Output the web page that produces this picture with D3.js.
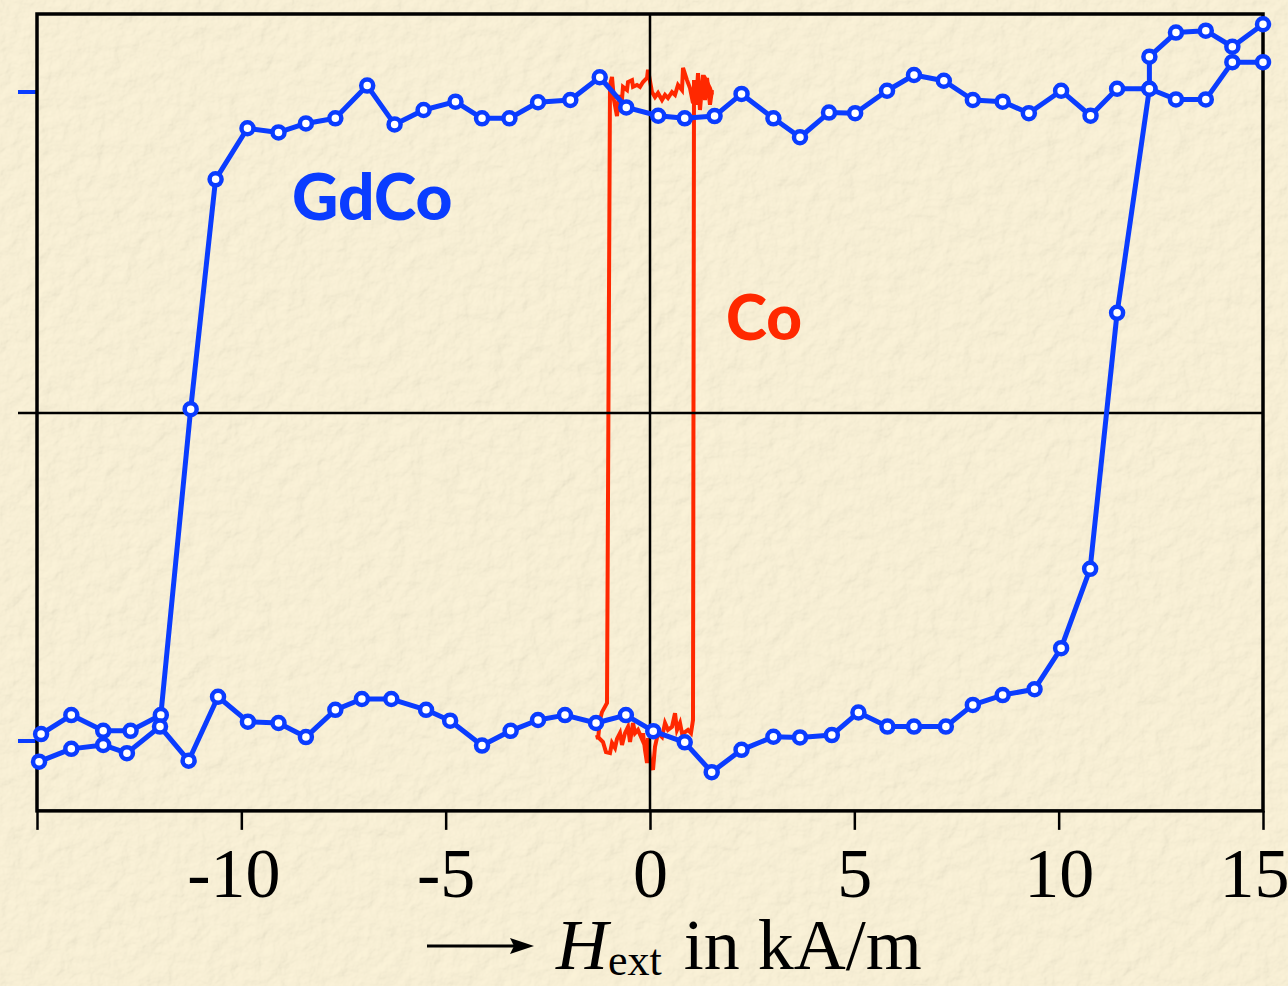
<!DOCTYPE html>
<html>
<head>
<meta charset="utf-8">
<script src="https://cdn.jsdelivr.net/npm/d3@7"></script>
<style>
  html, body { margin: 0; padding: 0; background: #f3ebd3; }
  svg { display: block; }
</style>
</head>
<body>
<svg id="chart" width="1288" height="986"></svg>
<script>
// ---------- DATA ----------
// GdCo: descending branch (upper), H from +15 to -15
const gdDownH = [15.0, 14.25, 13.60, 12.87, 12.22, 12.22, 11.43, 10.78, 10.06, 9.27, 8.63, 7.90, 7.19, 6.46, 5.80, 5.02, 4.38, 3.67, 3.02, 2.24, 1.58, 0.85, 0.20, -0.58, -1.23, -1.95, -2.74, -3.44, -4.11, -4.76, -5.54, -6.25, -6.92, -7.70, -8.42, -9.09, -9.85, -10.63, -11.24, -11.97, -12.71, -13.38, -14.16, -14.90];
const gdDownM = [1.211, 1.141, 1.191, 1.185, 1.110, 1.010, 1.010, 0.926, 1.004, 0.934, 0.970, 0.975, 1.035, 1.053, 1.004, 0.934, 0.936, 0.859, 0.918, 0.994, 0.925, 0.918, 0.926, 0.952, 1.046, 0.975, 0.968, 0.918, 0.918, 0.970, 0.944, 0.899, 1.020, 0.918, 0.902, 0.874, 0.887, 0.728, 0.012, -0.921, -0.969, -0.969, -0.921, -0.979];
// GdCo: ascending branch (lower), H from -15 to +15
const gdUpH = [-14.95, -14.16, -13.38, -12.80, -11.99, -11.29, -10.57, -9.84, -9.09, -8.42, -7.70, -7.05, -6.33, -5.48, -4.89, -4.11, -3.41, -2.74, -2.08, -1.32, -0.59, 0.08, 0.85, 1.51, 2.24, 3.02, 3.67, 4.45, 5.10, 5.81, 6.46, 7.24, 7.90, 8.63, 9.41, 10.06, 10.77, 11.43, 12.22, 12.87, 13.60, 14.25, 15.0];
const gdUpM = [-1.063, -1.024, -1.012, -1.037, -0.956, -1.060, -0.865, -0.941, -0.945, -0.988, -0.905, -0.872, -0.872, -0.905, -0.938, -1.014, -0.969, -0.936, -0.921, -0.945, -0.921, -0.970, -1.004, -1.095, -1.027, -0.987, -0.989, -0.982, -0.913, -0.956, -0.956, -0.956, -0.890, -0.860, -0.842, -0.717, -0.475, 0.312, 1.010, 0.977, 0.977, 1.093, 1.093];

// Co: descending branch
const coDownH = [1.517, 1.468, 1.370, 1.297, 1.223, 1.150, 1.101, 1.028, 0.979, 0.905, 0.808, 0.783, 0.685, 0.612, 0.538, 0.440, 0.367, 0.294, 0.196, 0.122, 0.049, -0.049, -0.073, -0.171, -0.245, -0.318, -0.416, -0.440, -0.538, -0.563, -0.661, -0.710, -0.759, -0.808, -0.881, -0.930, -0.979, -1.052, -1.175, -1.223, -1.272, -1.297];
const coDownM = [0.991, 1.012, 1.037, 1.000, 1.022, 0.991, 1.000, 0.981, 1.012, 1.037, 1.075, 1.006, 1.022, 0.991, 1.000, 0.981, 0.991, 0.975, 0.997, 0.984, 1.000, 1.069, 1.044, 1.031, 1.016, 1.022, 1.016, 1.037, 1.031, 1.006, 1.016, 0.938, 0.991, 0.925, 0.975, 1.047, 1.022, -0.884, -0.912, -0.936, -0.994, -0.982];
// Co: ascending branch
const coUpH = [-1.297, -1.272, -1.150, -1.077, -0.979, -0.930, -0.856, -0.808, -0.734, -0.685, -0.612, -0.538, -0.489, -0.416, -0.367, -0.294, -0.196, -0.171, -0.122, -0.073, -0.049, 0.000, 0.073, 0.122, 0.196, 0.294, 0.367, 0.440, 0.538, 0.612, 0.661, 0.734, 0.783, 0.856, 0.930, 1.003, 1.052, 1.077, 1.126, 1.175, 1.223, 1.297, 1.346, 1.395, 1.468, 1.517];
const coUpM = [-0.991, -0.988, -1.003, -1.034, -1.037, -1.006, -1.021, -0.994, -0.976, -1.012, -0.976, -0.957, -1.003, -0.945, -0.976, -0.966, -0.994, -0.976, -1.027, -1.067, -0.991, -1.058, -1.088, -1.018, -0.976, -0.988, -0.945, -0.966, -0.957, -0.915, -0.966, -0.945, -0.976, -0.973, -0.966, -0.976, -0.936, 1.037, 0.960, 1.059, 0.944, 1.053, 0.975, 1.044, 0.960, 1.006];

const xTicks = [-15, -10, -5, 0, 5, 10, 15];
const xTickLabels = ["", "-10", "-5", "0", "5", "10", "15"];
const yTicks = [-1, 1];
const xDomain = [-15, 15];
const yFrame = [-1.213, 1.243];

// ---------- DRAW ----------
const svg = d3.select("#chart");
const defs = svg.append("defs");
const f = defs.append("filter").attr("id", "paper").attr("x", 0).attr("y", 0).attr("width", "100%").attr("height", "100%");
f.append("feTurbulence").attr("type", "fractalNoise").attr("baseFrequency", "0.06").attr("numOctaves", 4).attr("seed", 7).attr("result", "noise");
f.append("feDiffuseLighting").attr("in", "noise").attr("lighting-color", "#fdf4d9").attr("surfaceScale", 1.4)
  .append("feDistantLight").attr("azimuth", 45).attr("elevation", 74);

svg.append("rect").attr("width", 1288).attr("height", 986).attr("fill", "#f3ebd3");
svg.append("rect").attr("width", 1288).attr("height", 986).attr("filter", "url(#paper)").attr("opacity", 0.8);

const x = d3.scaleLinear().domain(xDomain).range([37, 1263]);
const y = d3.scaleLinear().domain([-1, 0, 1]).range([741, 413, 92]);

const blue = "#0a3cff";
const red = "#ff2800";

const yTop = y(yFrame[1]), yBot = y(yFrame[0]);

// x axis
const xAxis = d3.axisBottom(x).tickValues(xTicks).tickSize(19)
  .tickFormat((d, i) => xTickLabels[i]);
const gx = svg.append("g").attr("transform", `translate(0,${yBot})`).call(xAxis);
gx.select(".domain").remove();
gx.selectAll(".tick line").attr("stroke", "#000").attr("stroke-width", 2.5);
gx.selectAll(".tick text")
  .attr("y", 86).attr("dy", 0)
  .attr("fill", "#000")
  .style("font-family", "'Liberation Serif', 'Times New Roman', serif")
  .style("font-size", "70px")
  .attr("dx", d => d === 15 ? -9 : (d === -10 ? -8 : 0));

// y ticks (blue)
svg.selectAll(".ytick").data(yTicks).enter().append("line")
  .attr("x1", 18).attr("x2", x(xDomain[0]))
  .attr("y1", d => y(d)).attr("y2", d => y(d))
  .attr("stroke", blue).attr("stroke-width", 4);

// Co curve
const line = d3.line().x(d => x(d[0])).y(d => y(d[1]));
const coDown = coDownH.map((h, i) => [h, coDownM[i]]);
const coUp = coUpH.map((h, i) => [h, coUpM[i]]);
[coDown, coUp].forEach(s => {
  svg.append("path").datum(s).attr("d", line)
    .attr("fill", "none").attr("stroke", red).attr("stroke-width", 4).attr("stroke-linejoin", "miter");
});

// frame & zero lines
svg.append("rect")
  .attr("x", x(xDomain[0])).attr("y", yTop)
  .attr("width", x(xDomain[1]) - x(xDomain[0])).attr("height", yBot - yTop)
  .attr("fill", "none").attr("stroke", "#000").attr("stroke-width", 3.5);
svg.append("line").attr("x1", 18).attr("x2", x(xDomain[1])).attr("y1", y(0)).attr("y2", y(0))
  .attr("stroke", "#000").attr("stroke-width", 2.5);
svg.append("line").attr("x1", x(0)).attr("x2", x(0)).attr("y1", yTop).attr("y2", yBot)
  .attr("stroke", "#000").attr("stroke-width", 2.5);

// GdCo curve
const gdDown = gdDownH.map((h, i) => [h, gdDownM[i]]);
const gdUp = gdUpH.map((h, i) => [h, gdUpM[i]]);
[gdDown, gdUp].forEach(s => {
  svg.append("path").datum(s).attr("d", line)
    .attr("fill", "none").attr("stroke", blue).attr("stroke-width", 5).attr("stroke-linejoin", "round");
});
[gdDown, gdUp].forEach(s => {
  svg.append("g").selectAll("circle").data(s).enter().append("circle")
    .attr("cx", d => x(d[0])).attr("cy", d => y(d[1])).attr("r", 6)
    .attr("fill", "#fff").attr("stroke", blue).attr("stroke-width", 4.5);
});

// labels
svg.append("text").attr("x", 292).attr("y", 220)
  .style("font-family", "'Comic Sans MS', 'Lato', 'Open Sans', sans-serif")
  .style("font-weight", 900).style("font-size", "64px").attr("fill", blue).text("GdCo");
svg.append("text").attr("x", 726).attr("y", 340)
  .style("font-family", "'Comic Sans MS', 'Lato', 'Open Sans', sans-serif")
  .style("font-weight", 900).style("font-size", "62px").attr("fill", red).text("Co");

// axis title
svg.append("line").attr("x1", 427).attr("x2", 515).attr("y1", 946).attr("y2", 946)
  .attr("stroke", "#000").attr("stroke-width", 3);
svg.append("path").attr("d", "M 534 946 L 510 938 L 514 946 L 510 954 Z").attr("fill", "#000");
const t = svg.append("text").attr("x", 556).attr("y", 969)
  .style("font-family", "'Liberation Serif', 'Times New Roman', serif")
  .style("font-size", "72px").attr("fill", "#000");
t.append("tspan").style("font-style", "italic").text("H");
t.append("tspan").attr("dy", 6).style("font-size", "44px").text("ext");
t.append("tspan").attr("dy", -6).attr("dx", 4).text(" in kA/m");
</script>
</body>
</html>
